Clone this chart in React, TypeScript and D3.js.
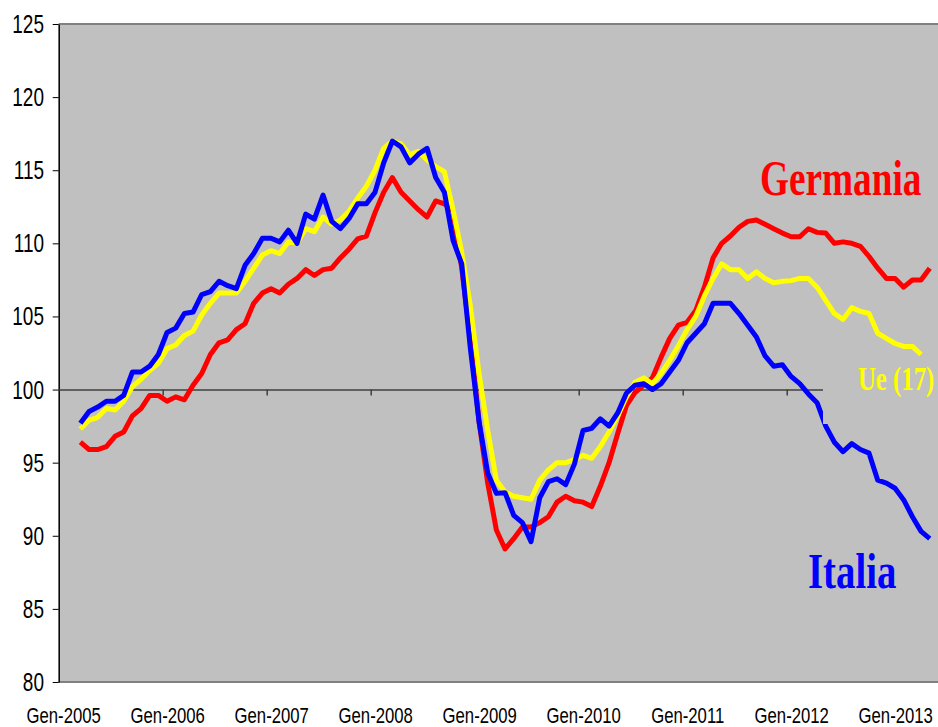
import React, { useEffect, useRef } from "react";
import * as d3 from "d3";

// months counted from Gen-2005 (0); series start at Mar 2005
const yearLabels = ["Gen-2005", "Gen-2006", "Gen-2007", "Gen-2008", "Gen-2009", "Gen-2010", "Gen-2011", "Gen-2012", "Gen-2013"];
const yearStarts = [0, 12, 24, 36, 48, 60, 72, 84, 96];
const firstMonth = 2;
const yTicks = [80, 85, 90, 95, 100, 105, 110, 115, 120, 125];

const germania = [
  96.4, 95.9, 95.9, 96.1, 96.8, 97.1, 98.2, 98.7, 99.6, 99.6,
  99.2, 99.5, 99.3, 100.3, 101.1, 102.4, 103.2, 103.4, 104.1, 104.5,
  105.9, 106.6, 106.9, 106.6, 107.2, 107.6, 108.2, 107.8, 108.2, 108.3,
  109.0, 109.6, 110.3, 110.5, 112.1, 113.5, 114.5, 113.5, 112.9, 112.3,
  111.8, 112.9, 112.7, 112.2, 108.3, 103.5, 97.8, 93.6, 90.4, 89.1,
  89.8, 90.6, 90.6, 90.9, 91.3, 92.3, 92.7, 92.4, 92.3, 92.0,
  93.4, 95.0, 97.0, 98.9, 99.8, 100.3, 100.8, 102.2, 103.5, 104.4,
  104.6, 105.4, 107.0, 109.0, 110.0, 110.5, 111.1, 111.5, 111.6, 111.3,
  111.0, 110.7, 110.45, 110.45, 111.0, 110.75, 110.7, 110.0, 110.1, 110.0,
  109.8, 109.1, 108.3, 107.6, 107.6, 107.0, 107.5, 107.5, 108.3,
];

const ue17 = [
  97.3, 97.9, 98.1, 98.7, 98.6, 99.2, 100.2, 100.7, 101.3, 101.8,
  102.8, 103.05, 103.7, 104.0, 105.1, 105.9, 106.6, 106.6, 106.6, 107.4,
  108.3, 109.2, 109.5, 109.3, 110.1, 110.0, 111.0, 110.8, 111.8, 111.3,
  111.6, 112.2, 113.1, 113.9, 115.0, 116.5, 117.0, 116.8, 116.05, 116.3,
  115.7, 115.25, 114.9, 112.3, 109.4, 105.7, 101.1, 97.2, 93.8, 93.0,
  92.7, 92.6, 92.5, 93.8, 94.5, 95.0, 95.0, 95.2, 95.5, 95.3,
  96.1, 97.1, 98.2, 99.5, 100.5, 100.8, 100.4, 101.1, 102.0, 103.0,
  104.1, 105.0, 106.4, 107.6, 108.6, 108.2, 108.2, 107.6, 108.05, 107.6,
  107.3, 107.4, 107.45, 107.6, 107.6, 107.0, 106.1, 105.2, 104.8, 105.6,
  105.35, 105.2, 103.85, 103.5, 103.15, 102.95, 102.95, 102.4,
];

const italia = [
  97.7, 98.5, 98.8, 99.2, 99.2, 99.6, 101.2, 101.2, 101.6, 102.4,
  103.9, 104.2, 105.2, 105.3, 106.5, 106.7, 107.4, 107.1, 106.9, 108.5,
  109.3, 110.35, 110.35, 110.1, 110.9, 110.0, 112.0, 111.65, 113.3, 111.5,
  111.0, 111.7, 112.7, 112.7, 113.5, 115.5, 117.0, 116.6, 115.5, 116.1,
  116.5, 114.5, 113.5, 110.2, 108.6, 102.8, 97.8, 94.3, 92.9, 92.95,
  91.4, 90.9, 89.6, 92.6, 93.7, 93.9, 93.5, 94.9, 97.2, 97.35,
  98.0, 97.5, 98.4, 99.75, 100.3, 100.4, 100.0, 100.4, 101.2, 102.0,
  103.2, 103.85, 104.5, 105.9, 105.9, 105.9, 105.2, 104.4, 103.6, 102.3,
  101.6, 101.7, 100.9, 100.4, 99.7, 99.1, 97.5, 96.4, 95.75, 96.3,
  95.9, 95.65, 93.8, 93.6, 93.25, 92.45, 91.3, 90.3, 89.8,
];

const W = 938;
const H = 727;

const App = () => {
  const ref = useRef<SVGSVGElement>(null);

  useEffect(() => {
    const svg = d3.select(ref.current);
    svg.selectAll("*").remove();

    const x = d3.scaleLinear().domain([0, 101.5]).range([58.7, 938.4]);
    const y = d3.scaleLinear().domain([80, 125]).range([682, 24]);
    const sans = "'Liberation Sans', Arial, sans-serif";
    const serif = "'Liberation Serif', 'Times New Roman', serif";

    // plot area
    svg
      .append("rect")
      .attr("x", x(0))
      .attr("y", y(125))
      .attr("width", W - x(0))
      .attr("height", y(80) - y(125))
      .attr("fill", "#c0c0c0");
    [125, 80].forEach((v) =>
      svg
        .append("line")
        .attr("x1", x(0))
        .attr("x2", W)
        .attr("y1", y(v))
        .attr("y2", y(v))
        .attr("stroke", "#808080")
        .attr("stroke-width", 2)
    );

    // y axis
    const yAxis = svg
      .append("g")
      .attr("transform", `translate(${x(0)},0)`)
      .call(d3.axisLeft(y).tickValues(yTicks).tickSize(6).tickSizeOuter(0).tickFormat(() => ""));
    yAxis.select(".domain").attr("stroke", "#000").attr("stroke-width", 1.5);
    yAxis.selectAll(".tick line").attr("stroke", "#000");

    yTicks.forEach((v) =>
      svg
        .append("g")
        .attr("transform", `translate(44,${y(v)}) scale(0.76,1)`)
        .append("text")
        .attr("text-anchor", "end")
        .attr("dy", "0.36em")
        .attr("font-family", sans)
        .attr("font-size", 25)
        .attr("fill", "#000")
        .text(v)
    );

    // x axis crossing at 100
    const xAxis = svg
      .append("g")
      .attr("transform", `translate(0,${y(100)})`)
      .call(d3.axisBottom(x).tickValues(yearStarts.slice(1)).tickSize(6).tickSizeOuter(0).tickFormat(() => ""));
    xAxis.select(".domain").attr("stroke", "#404040").attr("stroke-width", 1.5);
    xAxis.selectAll(".tick line").attr("stroke", "#404040").attr("stroke-width", 1.5);

    yearLabels.forEach((lab, i) =>
      svg
        .append("g")
        .attr("transform", `translate(${x(yearStarts[i]) + 5},${H - 4.5}) scale(0.76,1)`)
        .append("text")
        .attr("text-anchor", "middle")
        .attr("font-family", sans)
        .attr("font-size", 22)
        .attr("fill", "#000")
        .text(lab)
    );

    const line = d3
      .line<number>()
      .x((_, i) => x(firstMonth + i + 0.5))
      .y((d) => y(d));

    const series = [
      { data: germania, color: "#ff0000" },
      { data: ue17, color: "#ffff00" },
      { data: italia, color: "#0000ff" },
    ];
    series.forEach((s) =>
      svg
        .append("path")
        .attr("d", line(s.data))
        .attr("fill", "none")
        .attr("stroke", s.color)
        .attr("stroke-width", 5)
        .attr("stroke-linejoin", "round")
    );

    // label box for Ue (17) hides what lies under it
    svg.append("rect").attr("x", 823).attr("y", 360).attr("width", W - 823).attr("height", 64).attr("fill", "#c0c0c0");

    const labels = [
      { text: "Germania", color: "#ff0000", x: 760, y: 195, size: 50, sx: 0.745 },
      { text: "Ue (17)", color: "#ffff00", x: 858, y: 390, size: 33, sx: 0.75 },
      { text: "Italia", color: "#0000ff", x: 808, y: 588, size: 50, sx: 0.776 },
    ];
    labels.forEach((l) =>
      svg
        .append("g")
        .attr("transform", `translate(${l.x},${l.y}) scale(${l.sx},1)`)
        .append("text")
        .attr("font-family", serif)
        .attr("font-weight", "bold")
        .attr("font-size", l.size)
        .attr("fill", l.color)
        .text(l.text)
    );
  }, []);

  return (
    <svg
      ref={ref}
      width={W}
      height={H}
      style={{ position: "absolute", left: 0, top: 0, background: "#fff" }}
    />
  );
};

export default App;
